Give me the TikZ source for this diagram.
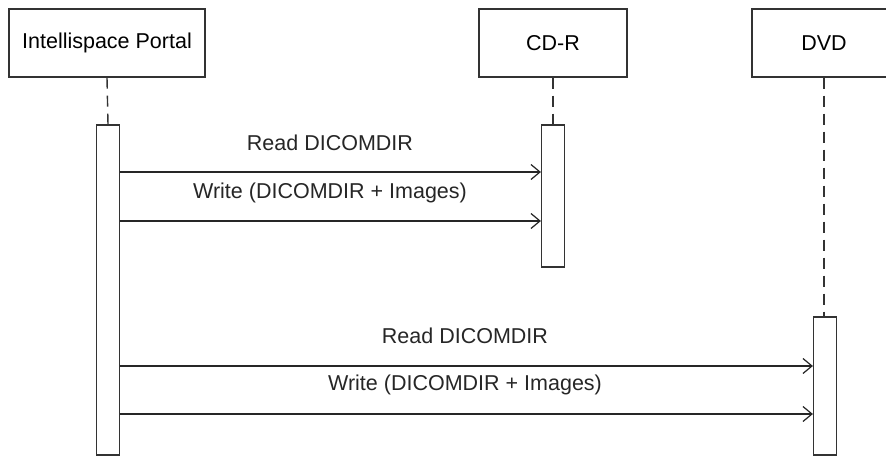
\documentclass[tikz,border=0pt]{standalone}
\usepackage{fontspec}
\setmainfont{Liberation Sans}
\usetikzlibrary{arrows.meta}
\begin{document}
\begin{tikzpicture}[x=1pt,y=-1pt,
  objbox/.style={draw=black!80,line width=1.2pt,fill=white,minimum height=68pt,inner sep=0pt,font=\fontsize{21.5}{25}\selectfont},
  actbar/.style={draw=black!80,line width=1.2pt,fill=white,minimum width=23pt,inner sep=0pt},
  lifeline/.style={draw=black!80,line width=1.4pt,dash pattern=on 11pt off 7pt},
  msg/.style={draw=black!85,line width=1.2pt,-{Straight Barb[length=9pt,width=15pt,line width=1.2pt]}},
  lbl/.style={font=\fontsize{21.5}{25}\selectfont,text=black!85,inner sep=0pt}]
\useasboundingbox (0,0) rectangle (886,458);
\node[objbox,minimum width=196pt] (ip) at (107,43) {Intellispace Portal};
\node[objbox,minimum width=148pt] (cd) at (553,43) {CD-R};
\node[objbox,minimum width=144pt] (dvd) at (824,43) {DVD};
\node[actbar,minimum height=330pt] (a1) at (108,290) {};
\node[actbar,minimum height=142pt] (a2) at (553,196) {};
\node[actbar,minimum height=138pt] (a3) at (825,386) {};
\draw[lifeline] (ip.south) -- (a1.north);
\draw[lifeline] (cd.south) -- (a2.north);
\draw[lifeline] (dvd.south) -- (dvd.south |- a3.north);
\draw[msg] (a1.east |- 0,172) -- (a2.west |- 0,172);
\draw[msg] (a1.east |- 0,221) -- (a2.west |- 0,221);
\draw[msg] (a1.east |- 0,366) -- (a3.west |- 0,366);
\draw[msg] (a1.east |- 0,414) -- (a3.west |- 0,414);
\node[lbl] (l1) at (330,143) {Read DICOMDIR};
\node[lbl] (l2) at (330,193) {Write (DICOMDIR + Images)};
\node[lbl] (l3) at (465,336) {Read DICOMDIR};
\node[lbl] (l4) at (465,385) {Write (DICOMDIR + Images)};
\end{tikzpicture}
\end{document}
